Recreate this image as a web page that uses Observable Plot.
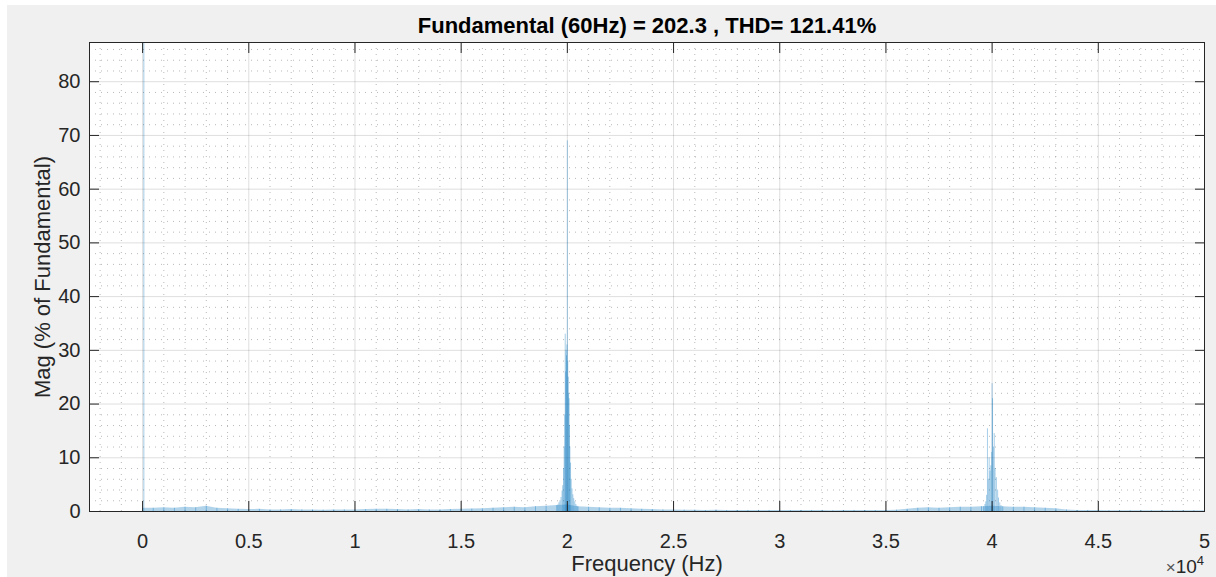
<!DOCTYPE html>
<html>
<head>
<meta charset="utf-8">
<script src="https://cdn.jsdelivr.net/npm/d3@7"></script>
<script src="https://cdn.jsdelivr.net/npm/@observablehq/plot@0.6"></script>
<style>
  html, body { margin: 0; padding: 0; background: #ffffff; }
  #fig { position: absolute; left: 7px; top: 5px; width: 1209px; height: 572px; background: #f0f0f0; }
  #exp { position: absolute; right: 12px; top: 552px; font-family: "Liberation Sans", Arial, sans-serif; font-size: 19px; color: #262626; line-height: 20px; white-space: nowrap; }
  #exp .x { font-size: 17px; color: #555; }
  #exp sup { font-size: 13px; vertical-align: 8px; line-height: 0; }
</style>
</head>
<body>
<div id="fig"><div id="exp"><span class="x">×</span>10<sup>4</sup></div></div>
<script>
// ---- data ----
const titleText = "Fundamental (60Hz) = 202.3 , THD= 121.41%";
const xLabel = "Frequency (Hz)";
const yLabel = "Mag (% of Fundamental)";

const fundFreq = [60];
const fundMag = [87.3];

const h2Freq = [19550,19600,19650,19700,19750,19780,19820,19850,19880,19900,19920,19940,19960,19980,20000,20020,20040,20060,20080,20100,20120,20150,20180,20220,20260,20300,20350,20400,20450];
const h2Mag  = [1.2,1.6,2.0,2.6,3.8,4.8,8,12,18,33,26,30,29,31,69,28,25,22,21,16,12,9,6,4.2,3.1,2.4,1.8,1.3,1.0];

const h4Freq = [39600,39660,39700,39740,39780,39820,39860,39900,39940,39980,40000,40020,40060,40100,40140,40200,40260,40300,40360,40420];
const h4Mag  = [0.9,1.3,1.8,3.0,15.4,6,10,7.5,8.5,11,23.8,21,12,14.5,8,6.3,4,2.5,1.6,1.1];

const noiseFreq = d3.range(0, 50001, 500);
const noiseMag = [
  0.6,0.6,0.7,0.6,0.8,0.7,1.0,0.6,0.5,0.4,
  0.35,0.4,0.3,0.3,0.35,0.3,0.3,0.25,0.3,0.3,
  0.3,0.35,0.4,0.4,0.35,0.3,0.35,0.3,0.3,0.35,
  0.4,0.45,0.5,0.6,0.7,0.8,0.7,0.9,1.0,1.1,
  1.2,0.9,0.8,0.7,0.6,0.6,0.5,0.4,0.35,0.3,
  0.3,0.25,0.25,0.2,0.25,0.2,0.2,0.2,0.2,0.2,
  0.2,0.2,0.2,0.2,0.2,0.15,0.2,0.2,0.2,0.2,
  0.2,0.25,0.4,0.6,0.7,0.6,0.7,0.8,0.8,0.9,
  1.0,0.9,0.8,0.8,0.7,0.6,0.5,0.3,0.2,0.2,
  0.2,0.15,0.15,0.15,0.15,0.15,0.15,0.15,0.15,0.15,
  0.15
];

const xTicks = [0,5000,10000,15000,20000,25000,30000,35000,40000,45000,50000];
const xTickLabels = ["0","0.5","1","1.5","2","2.5","3","3.5","4","4.5","5"];
const yTicks = [0,10,20,30,40,50,60,70,80];
const xMinor = d3.range(-2000, 50001, 1000).filter(v => v % 5000 !== 0);
const yMinor = d3.range(2, 88, 2).filter(v => v % 10 !== 0);

const xDomain = [-2500, 50000];
const yDomain = [0, 87.3];

// ---- build tables ----
const zip = (f, m) => f.map((v, i) => ({f: v, m: m[i]}));
const stems = [...zip(fundFreq, fundMag), ...zip(h2Freq, h2Mag), ...zip(h4Freq, h4Mag), ...zip(noiseFreq, noiseMag)];
const noise = zip(noiseFreq, noiseMag);
const labelOf = new Map(xTicks.map((t, i) => [t, xTickLabels[i]]));

const ink = "#262626";
const font = "'Liberation Sans', Arial, Helvetica, sans-serif";

const chart = Plot.plot({
  width: 1209,
  height: 572,
  marginLeft: 82,
  marginRight: 12,
  marginTop: 37,
  marginBottom: 66,
  style: {background: "transparent", fontFamily: font, fontSize: "20px", color: ink},
  x: {domain: xDomain, type: "linear"},
  y: {domain: yDomain, type: "linear"},
  marks: [
    Plot.frame({fill: "#ffffff", stroke: "none"}),
    Plot.gridX(xMinor, {stroke: "#8a8a8a", strokeOpacity: 0.6, strokeDasharray: "1,5"}),
    Plot.gridY(yMinor, {stroke: "#8a8a8a", strokeOpacity: 0.6, strokeDasharray: "1,5"}),
    Plot.gridX(xTicks, {stroke: "#262626", strokeOpacity: 0.15}),
    Plot.gridY(yTicks, {stroke: "#262626", strokeOpacity: 0.15}),
    Plot.areaY(noise, {x: "f", y: "m", fill: "#0072BD", fillOpacity: 0.3}),
    Plot.ruleX(stems, {x: "f", y1: 0, y2: "m", stroke: "#0072BD", strokeOpacity: 0.35, strokeWidth: 1}),
    Plot.frame({stroke: ink, strokeWidth: 1}),
    // inward ticks on all four sides
    Plot.axisX(xTicks, {anchor: "bottom", tickSize: 10, dy: -10, fill: "none", stroke: ink, label: null}),
    Plot.axisX(xTicks, {anchor: "top", tickSize: 10, dy: 10, fill: "none", stroke: ink, label: null}),
    Plot.axisY(yTicks, {anchor: "left", tickSize: 10, dx: 10, fill: "none", stroke: ink, label: null}),
    Plot.axisY(yTicks, {anchor: "right", tickSize: 10, dx: -10, fill: "none", stroke: ink, label: null}),
    // tick labels
    Plot.axisX(xTicks, {anchor: "bottom", tickSize: 0, tickPadding: 22, tickFormat: d => labelOf.get(d), fill: ink, label: null}),
    Plot.axisY(yTicks, {anchor: "left", tickSize: 0, tickPadding: 9, fill: ink, label: null}),
    // axis labels and title
    Plot.text([xLabel], {frameAnchor: "bottom", lineAnchor: "middle", dy: 52, fontSize: 22, fill: ink}),
    Plot.text([yLabel], {frameAnchor: "left", textAnchor: "middle", lineAnchor: "middle", rotate: -90, dx: -47, fontSize: 22, fill: ink}),
    Plot.text([titleText], {frameAnchor: "top", lineAnchor: "middle", dy: -17, fontSize: 22, fontWeight: "bold", fill: "#000000"})
  ]
});
document.getElementById("fig").insertBefore(chart, document.getElementById("exp"));
</script>
</body>
</html>
